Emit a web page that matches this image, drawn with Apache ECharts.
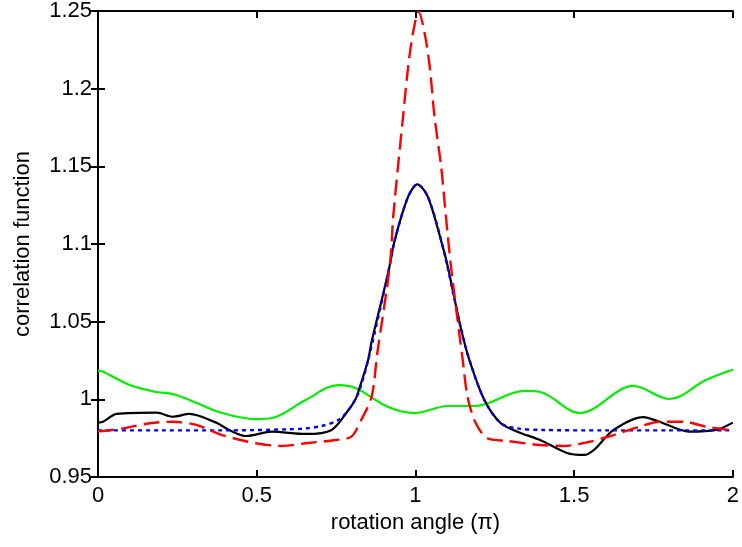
<!DOCTYPE html>
<html>
<head>
<meta charset="utf-8">
<script src="https://cdn.jsdelivr.net/npm/echarts@6/dist/echarts.min.js"></script>
<style>
  html, body { margin: 0; padding: 0; background: #fff; }
  #chart { width: 742px; height: 547px; }
</style>
</head>
<body>
<div id="chart"></div>
<script>
// angle in units of pi
var greenX = [0, 0.016, 0.10, 0.185, 0.235, 0.288, 0.391, 0.498, 0.548, 0.654, 0.757, 0.811, 0.914, 0.998, 1.102, 1.186, 1.343, 1.393, 1.518, 1.687, 1.800, 1.915, 2.0];
var greenY = [1.0185, 1.0178, 1.0092, 1.0047, 1.0034, 0.9996, 0.9912, 0.9873, 0.9880, 0.9996, 1.0092, 1.0073, 0.9951, 0.9912, 0.9957, 0.9957, 1.0054, 1.0047, 0.9912, 1.0086, 1.0002, 1.0124, 1.0192];

var blackX = [0, 0.016, 0.059, 0.185, 0.235, 0.288, 0.372, 0.413, 0.466, 0.548, 0.654, 0.736, 0.789, 0.810, 0.820, 0.851, 0.861, 0.914, 0.935, 0.977, 1.006, 1.039, 1.086, 1.102, 1.142, 1.170, 1.217, 1.268, 1.321, 1.393, 1.477, 1.531, 1.562, 1.624, 1.718, 1.768, 1.862, 1.947, 2.0];
var blackY = [0.9850, 0.9856, 0.9906, 0.9914, 0.9888, 0.9906, 0.9850, 0.9803, 0.9764, 0.9792, 0.9777, 0.9803, 0.9931, 0.9996, 1.0049, 1.0253, 1.0363, 1.0813, 1.1026, 1.1305, 1.1384, 1.1305, 1.0983, 1.0854, 1.0468, 1.0253, 0.9996, 0.9848, 0.9792, 0.9738, 0.9655, 0.9642, 0.9674, 0.9803, 0.9886, 0.9856, 0.9792, 0.9803, 0.9850];

var blueX = [0, 0.2, 0.4, 0.6, 0.654, 0.704, 0.757, 0.789, 0.820, 0.851, 0.914, 0.935, 0.977, 1.006, 1.039, 1.086, 1.142, 1.170, 1.217, 1.268, 1.321, 1.40, 1.6, 1.8, 2.0];
var blueY = [0.9800, 0.9800, 0.9800, 0.9807, 0.9813, 0.9828, 0.9867, 0.9931, 1.0040, 1.0253, 1.0813, 1.1026, 1.1305, 1.1384, 1.1305, 1.0983, 1.0468, 1.0253, 0.9996, 0.9848, 0.9813, 0.9803, 0.9800, 0.9800, 0.9800];

var redX = [0, 0.016, 0.078, 0.163, 0.235, 0.310, 0.391, 0.498, 0.579, 0.654, 0.748, 0.798, 0.829, 0.862, 0.880, 0.919, 0.930, 0.945, 0.961, 0.977, 0.992, 1.010, 1.029, 1.045, 1.060, 1.081, 1.096, 1.112, 1.138, 1.149, 1.164, 1.190, 1.227, 1.289, 1.393, 1.468, 1.549, 1.624, 1.706, 1.768, 1.844, 1.915, 2.0];
var redY = [0.9795, 0.9796, 0.9813, 0.9846, 0.9856, 0.9835, 0.9770, 0.9717, 0.9700, 0.9717, 0.9738, 0.9760, 0.9867, 1.0017, 1.0300, 1.0854, 1.1176, 1.1498, 1.1820, 1.2141, 1.2356, 1.2496, 1.2356, 1.2141, 1.1820, 1.1498, 1.1176, 1.0854, 1.0425, 1.0253, 1.0017, 0.9846, 0.9749, 0.9732, 0.9706, 0.9700, 0.9727, 0.9770, 0.9824, 0.9856, 0.9856, 0.9824, 0.9800];

var xTicks = [0, 2, 0.5];      // min, max, step
var yTicks = [0.95, 1.25, 0.05];

function pairs(xs, ys) {
    var out = [];
    for (var i = 0; i < xs.length; i++) {
        out.push([xs[i], ys[i]]);
    }
    return out;
}

function fmt(v) {
    return String(parseFloat(v.toFixed(2)));
}

var font = 'Liberation Sans, Arial, Helvetica, sans-serif';
var fontSize = 22;
var lineStyleAxis = { color: '#000', width: 2 };

var myChart = echarts.init(document.getElementById('chart'), null, { renderer: 'canvas' });
var option = {
    animation: false,
    backgroundColor: '#fff',
    grid: { left: 98, right: 5, top: 11, bottom: 70, containLabel: false },
    xAxis: [{
        type: 'value',
        min: xTicks[0], max: xTicks[1], interval: xTicks[2],
        name: 'rotation angle (π)',
        nameLocation: 'middle',
        nameGap: 30,
        nameTextStyle: { color: '#000', fontSize: fontSize, fontFamily: font },
        axisLine: { show: true, lineStyle: lineStyleAxis },
        axisTick: { show: true, inside: true, length: 7, lineStyle: lineStyleAxis },
        axisLabel: { color: '#000', fontSize: fontSize, fontFamily: font, margin: 8, formatter: fmt },
        splitLine: { show: false }
    }, {
        type: 'value', position: 'top',
        min: xTicks[0], max: xTicks[1], interval: xTicks[2],
        axisLine: { show: true, lineStyle: lineStyleAxis },
        axisTick: { show: true, inside: true, length: 7, lineStyle: lineStyleAxis },
        axisLabel: { show: false },
        splitLine: { show: false }
    }],
    yAxis: [{
        type: 'value',
        min: yTicks[0], max: yTicks[1], interval: yTicks[2],
        name: 'correlation function',
        nameLocation: 'middle',
        nameGap: 64,
        nameRotate: 90,
        nameTextStyle: { color: '#000', fontSize: fontSize, fontFamily: font },
        axisLine: { show: true, lineStyle: lineStyleAxis },
        axisTick: { show: true, inside: true, length: 7, lineStyle: lineStyleAxis },
        axisLabel: { color: '#000', fontSize: fontSize, fontFamily: font, margin: 6, formatter: fmt },
        splitLine: { show: false }
    }, {
        type: 'value', position: 'right',
        min: yTicks[0], max: yTicks[1], interval: yTicks[2],
        axisLine: { show: true, lineStyle: lineStyleAxis },
        axisTick: { show: true, inside: true, length: 7, lineStyle: lineStyleAxis },
        axisLabel: { show: false },
        splitLine: { show: false }
    }],
    series: [{
        name: 'green', type: 'line', showSymbol: false, smooth: 0.35,
        data: pairs(greenX, greenY),
        lineStyle: { color: '#00ee00', width: 2.2 }
    }, {
        name: 'black', type: 'line', showSymbol: false, smooth: 0.3,
        data: pairs(blackX, blackY),
        lineStyle: { color: '#000', width: 2.2 }
    }, {
        name: 'blue', type: 'line', showSymbol: false, smooth: 0.3,
        data: pairs(blueX, blueY),
        lineStyle: { color: '#0000ff', width: 2.4, type: [4, 4] }
    }, {
        name: 'red', type: 'line', showSymbol: false, smooth: 0.3,
        data: pairs(redX, redY),
        lineStyle: { color: '#ff0000', width: 2.4, type: [16, 7] }
    }]
};
myChart.setOption(option);
</script>
</body>
</html>
